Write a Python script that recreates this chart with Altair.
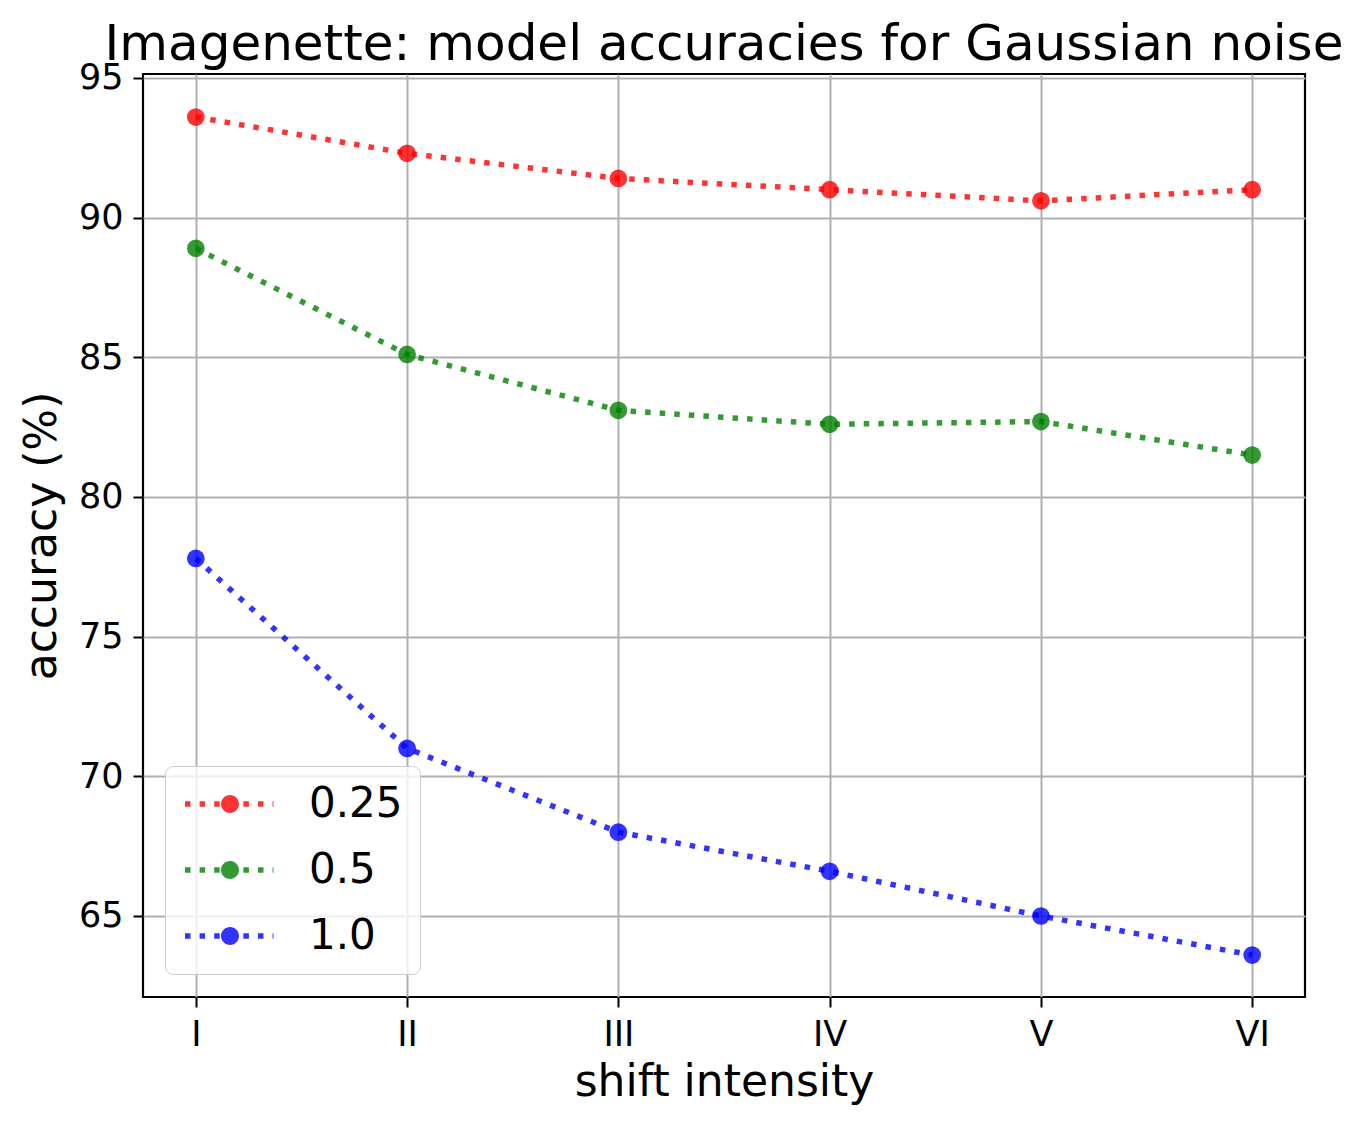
import altair as alt
import pandas as pd

intensities = ["I", "II", "III", "IV", "V", "VI"]
series_names = ["0.25", "0.5", "1.0"]
acc_025 = [93.6, 92.3, 91.4, 91.0, 90.6, 91.0]
acc_05 = [88.9, 85.1, 83.1, 82.6, 82.7, 81.5]
acc_10 = [77.8, 71.0, 68.0, 66.6, 65.0, 63.6]
colors = ["#ff0000", "#008000", "#0000ff"]
y_ticks = [65, 70, 75, 80, 85, 90, 95]

rows = []
for name, vals in zip(series_names, [acc_025, acc_05, acc_10]):
    for cat, v in zip(intensities, vals):
        rows.append({"intensity": cat, "sigma": name, "acc": v})
df = pd.DataFrame(rows)

FONT = "DejaVu Sans"
stroke_scale = alt.Scale(domain=series_names, range=colors)

# legend glyph: dotted line (small squares) with a filled circle in the middle,
# in symbol units (1 unit = half of sqrt(symbolSize))
sq = 0.611
period = 1.622
parts = []
for k in range(6):
    x0 = -5.0 + k * period
    if -1.0 < x0 + sq / 2 < 1.0:
        continue
    parts.append(f"M{x0:.3f},{-sq/2:.3f}h{sq:.3f}v{sq:.3f}h{-sq:.3f}Z")
parts.append(f"M4.733,{-sq/2:.3f}h0.1v{sq:.3f}h-0.1Z")
parts.append("M1,0A1,1,0,1,1,-1,0A1,1,0,1,1,1,0Z")
legend_glyph = "".join(parts)

x_enc = alt.X(
    "intensity:N",
    sort=intensities,
    scale=alt.Scale(type="point", padding=0.25),
    axis=alt.Axis(title="shift intensity", labelAngle=0, grid=True),
)
y_enc = alt.Y(
    "acc:Q",
    scale=alt.Scale(domain=[62.1, 95.14], nice=False, zero=False),
    axis=alt.Axis(title="accuracy (%)", values=y_ticks, grid=True),
)

legend = alt.Legend(
    title=None,
    orient="none",
    legendX=22,
    legendY=692,
    symbolType=legend_glyph,
    symbolSize=324,
    symbolStrokeWidth=0,
    symbolOffset=27,
    labelOffset=58,
    labelFontSize=42,
    labelFont=FONT,
    labelColor="black",
    rowPadding=24,
    padding=17,
    fillColor="rgba(255,255,255,0.8)",
    strokeColor="#cccccc",
    cornerRadius=8,
)

lines = alt.Chart(df).mark_line(
    strokeWidth=5.5, strokeDash=[5.5, 9.1], opacity=0.8
).encode(
    x=x_enc,
    y=y_enc,
    color=alt.Color("sigma:N", scale=stroke_scale, sort=series_names, legend=legend),
)

points = alt.Chart(df).mark_point(
    filled=True, size=314, opacity=0.8, shape="circle"
).encode(
    x=x_enc,
    y=y_enc,
    color=alt.Color("sigma:N", scale=stroke_scale, sort=series_names, legend=legend),
)

chart = (
    alt.layer(lines, points)
    .properties(
        width=1162,
        height=923,
        title=alt.TitleParams(
            "Imagenette: model accuracies for Gaussian noise",
            fontSize=50,
            font=FONT,
            fontWeight="normal",
            color="black",
            anchor="middle",
            offset=14,
            dy=23,
        ),
        autosize=alt.AutoSizeParams(type="none"),
        padding={"left": 135, "top": 66, "right": 51, "bottom": 110},
    )
    .configure_view(stroke="black", strokeWidth=2.2)
    .configure_axis(
        domain=False,
        gridColor="#b0b0b0",
        gridWidth=2,
        tickColor="black",
        tickWidth=2,
        tickSize=10,
        labelFont=FONT,
        labelFontSize=35,
        labelColor="black",
        labelPadding=10,
        titleFont=FONT,
        titleFontSize=44,
        titleFontWeight="normal",
        titleColor="black",
    )
    .configure_axisY(titlePadding=14)
    .configure_axisX(titlePadding=8)
)

chart.save("out.html", embed_options={"renderer": "svg", "actions": False})
